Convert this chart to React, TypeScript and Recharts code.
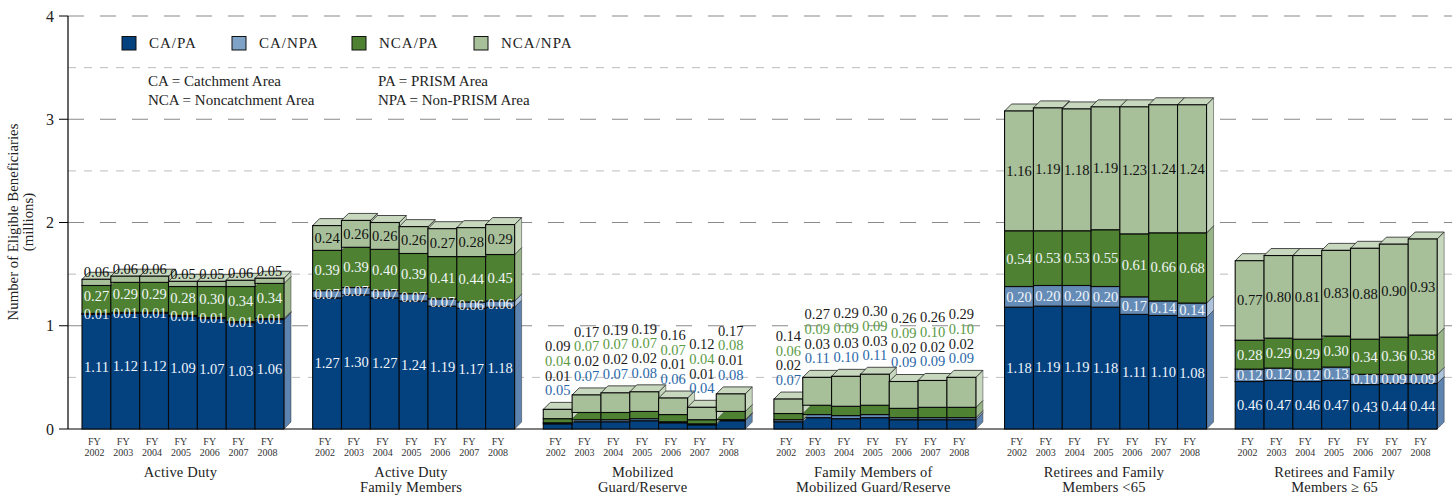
import { BarChart, Bar, XAxis, YAxis, CartesianGrid, LabelList } from 'recharts'

const FONT = '"Liberation Serif", serif'

const fiscalYears = ['2002', '2003', '2004', '2005', '2006', '2007', '2008']
const groupNames = [
  ['Active Duty'],
  ['Active Duty', 'Family Members'],
  ['Mobilized', 'Guard/Reserve'],
  ['Family Members of', 'Mobilized Guard/Reserve'],
  ['Retirees and Family', 'Members <65'],
  ['Retirees and Family', 'Members \u2265 65'],
]

const caPa = [
  [1.11, 1.12, 1.12, 1.09, 1.07, 1.03, 1.06],
  [1.27, 1.3, 1.27, 1.24, 1.19, 1.17, 1.18],
  [0.05, 0.07, 0.07, 0.08, 0.06, 0.04, 0.08],
  [0.07, 0.11, 0.1, 0.11, 0.09, 0.09, 0.09],
  [1.18, 1.19, 1.19, 1.18, 1.11, 1.1, 1.08],
  [0.46, 0.47, 0.46, 0.47, 0.43, 0.44, 0.44],
]
const caNpa = [
  [0.01, 0.01, 0.01, 0.01, 0.01, 0.01, 0.01],
  [0.07, 0.07, 0.07, 0.07, 0.07, 0.06, 0.06],
  [0.01, 0.02, 0.02, 0.02, 0.01, 0.01, 0.01],
  [0.02, 0.03, 0.03, 0.03, 0.02, 0.02, 0.02],
  [0.2, 0.2, 0.2, 0.2, 0.17, 0.14, 0.14],
  [0.12, 0.12, 0.12, 0.13, 0.1, 0.09, 0.09],
]
const ncaPa = [
  [0.27, 0.29, 0.29, 0.28, 0.3, 0.34, 0.34],
  [0.39, 0.39, 0.4, 0.39, 0.41, 0.44, 0.45],
  [0.04, 0.07, 0.07, 0.07, 0.07, 0.04, 0.08],
  [0.06, 0.09, 0.09, 0.09, 0.09, 0.1, 0.1],
  [0.54, 0.53, 0.53, 0.55, 0.61, 0.66, 0.68],
  [0.28, 0.29, 0.29, 0.3, 0.34, 0.36, 0.38],
]
const ncaNpa = [
  [0.06, 0.06, 0.06, 0.05, 0.05, 0.06, 0.05],
  [0.24, 0.26, 0.26, 0.26, 0.27, 0.28, 0.29],
  [0.09, 0.17, 0.19, 0.19, 0.16, 0.12, 0.17],
  [0.14, 0.27, 0.29, 0.3, 0.26, 0.26, 0.29],
  [1.16, 1.19, 1.18, 1.19, 1.23, 1.24, 1.24],
  [0.77, 0.8, 0.81, 0.83, 0.88, 0.9, 0.93],
]

const majorTicks = [1, 2, 3, 4]
const minorTicks = [0.5, 1.5, 2.5, 3.5]

const WIDTH = 1452
const HEIGHT = 496
const PLOT_TOP = 16
const PLOT_BOTTOM = 429
const PLOT_LEFT = 68
const PX_PER_UNIT = (PLOT_BOTTOM - PLOT_TOP) / 4
const DEPTH = 7

// groups whose segments are too thin, so the values are listed above the bars
const LISTED_GROUPS = [2, 3]

const series = [
  { key: 'caPa', name: 'CA/PA', values: caPa, fill: '#03417f', side: '#5d84b0', top: '#5d84b0', swatch: '#03417f', text: '#f2f5f9', listed: '#2a68a8' },
  { key: 'caNpa', name: 'CA/NPA', values: caNpa, fill: '#658cb6', side: '#adc3dc', top: '#adc3dc', swatch: '#7fa3c7', text: '#f2f5f9', listed: '#1a1a1a' },
  { key: 'ncaPa', name: 'NCA/PA', values: ncaPa, fill: '#4e8232', side: '#98b588', top: '#98b588', swatch: '#4e8232', text: '#f2f5f9', listed: '#5a9a45' },
  { key: 'ncaNpa', name: 'NCA/NPA', values: ncaNpa, fill: '#a8c09a', side: '#c8d8bf', top: '#c8d8bf', swatch: '#a8c09a', text: '#111111', listed: '#1a1a1a' },
]

type Row = { id: string; group: number; year: number; [key: string]: string | number | null }

const chartData: Row[] = []
groupNames.forEach((_, g) => {
  fiscalYears.forEach((_, y) => {
    const row: Row = { id: `${g}-${y}`, group: g, year: y }
    series.forEach((s) => {
      row[s.key] = s.values[g][y]
    })
    chartData.push(row)
  })
  if (g < groupNames.length - 1) {
    chartData.push({ id: `gap-${g}`, group: g, year: -1 })
  }
})

// front, top and side faces of one box
function Box3D({ x, y, width, height, fill, side, top }: any) {
  if (!height || height <= 0) return null
  const r = x + width
  const b = y + height
  return (
    <g>
      <path d={`M${r},${y} L${r + DEPTH},${y - DEPTH} L${r + DEPTH},${b - DEPTH} L${r},${b} Z`} fill={side} stroke="#333" strokeWidth={0.5} />
      <path d={`M${x},${y} L${x + DEPTH},${y - DEPTH} L${r + DEPTH},${y - DEPTH} L${r},${y} Z`} fill={top} stroke="#222" strokeWidth={0.8} />
      <rect x={x} y={y} width={width} height={height} fill={fill} stroke="#0a0a0a" strokeWidth={1.1} />
    </g>
  )
}

function SegmentLabel({ x, y, width, height, value, index, seriesIndex }: any) {
  if (value === null || value === undefined) return null
  const row = chartData[index]
  const s = series[seriesIndex]
  const cx = x + width / 2
  let cy = y + height / 2
  let fill = s.text
  if (LISTED_GROUPS.includes(row.group)) {
    let above = 0
    series.slice(seriesIndex + 1).forEach((o) => {
      above += (row[o.key] as number) || 0
    })
    const stackTop = y - above * PX_PER_UNIT
    cy = stackTop - 19 - 14.7 * seriesIndex
    fill = s.listed
  } else if (row.group === 0) {
    if (seriesIndex === 0) cy -= 5
    if (seriesIndex === 2) cy -= 3
    if (seriesIndex === 3) cy -= 10
  }
  return (
    <text x={cx} y={cy} dy="0.34em" textAnchor="middle" fontFamily={FONT} fontSize={14.5} fill={fill}>
      {Number(value).toFixed(2)}
    </text>
  )
}

function FyTick({ x, y, payload }: any) {
  const row = chartData.find((d) => d.id === payload.value)
  if (!row || (row.year as number) < 0) return null
  const names = groupNames[row.group]
  return (
    <g>
      <text x={x - 2} y={y + 8} textAnchor="middle" fontFamily={FONT} fontSize={10} fill="#333">FY</text>
      <text x={x - 2} y={y + 18.5} textAnchor="middle" fontFamily={FONT} fontSize={10} fill="#333">{fiscalYears[row.year]}</text>
      {row.year === 3 &&
        names.map((line, i) => (
          <text key={line} x={x + (row.group < 2 ? -1 : 0) - 1.5} y={y + 39.5 + i * 15} textAnchor="middle" fontFamily={FONT} fontSize={14.5} letterSpacing={0.2} fill="#222">
            {line}
          </text>
        ))}
    </g>
  )
}

function LegendRow() {
  const lefts = [122, 232, 352, 474]
  return (
    <g>
      {series.map((s, i) => (
        <g key={s.key}>
          <rect x={lefts[i]} y={36.5} width={14} height={13.5} fill={s.swatch} stroke="#111" />
          <text x={lefts[i] + 27} y={47.5} fontFamily={FONT} fontSize={15} letterSpacing={1} fill="#222">{s.name}</text>
        </g>
      ))}
    </g>
  )
}

export default function App() {
  return (
    <div style={{ position: 'absolute', left: 0, top: 0, width: WIDTH, height: HEIGHT, background: '#fff' }}>
      <BarChart
        width={WIDTH}
        height={HEIGHT}
        data={chartData}
        margin={{ top: PLOT_TOP, right: 0, bottom: 0, left: 0 }}
        barCategoryGap={0}
      >
        <CartesianGrid horizontal vertical={false} horizontalValues={majorTicks} stroke="#8a8a8a" strokeDasharray="16 16" strokeWidth={1.2} />
        <CartesianGrid horizontal vertical={false} horizontalValues={minorTicks} stroke="#bdbdbd" strokeDasharray="8 8" />
        <XAxis
          dataKey="id"
          interval={0}
          height={HEIGHT - PLOT_BOTTOM}
          padding={{ left: 14, right: 15 }}
          tick={<FyTick />}
          tickLine={false}
          axisLine={false}
        />
        <YAxis
          domain={[0, 4]}
          ticks={[0, 1, 2, 3, 4]}
          width={PLOT_LEFT}
          tickSize={9}
          tickMargin={5}
          tick={{ fontFamily: FONT, fontSize: 16, fill: '#222' }}
          tickLine={{ stroke: '#000' }}
          axisLine={{ stroke: '#000', strokeWidth: 1.2 }}
        />
        {series.map((s, i) => (
          <Bar
            key={s.key}
            dataKey={s.key}
            name={s.name}
            stackId="a"
            isAnimationActive={false}
            shape={(p: any) => <Box3D {...p} fill={s.fill} side={s.side} top={s.top} />}
          >
            <LabelList dataKey={s.key} content={(p: any) => <SegmentLabel {...p} seriesIndex={i} />} />
          </Bar>
        ))}
        <line x1={PLOT_LEFT} x2={1437} y1={PLOT_BOTTOM} y2={PLOT_BOTTOM} stroke="#000" strokeWidth={1.2} />
        <LegendRow />
        <g fontFamily={FONT} fontSize={15} fill="#222">
          <text x={148} y={86}>CA = Catchment Area</text>
          <text x={148} y={105}>NCA = Noncatchment Area</text>
          <text x={378} y={86}>PA = PRISM Area</text>
          <text x={378} y={105}>NPA = Non-PRISM Area</text>
        </g>
        <g fontFamily={FONT} fontSize={14.8} fill="#222" textAnchor="middle">
          <text transform="translate(18,222) rotate(-90)">Number of Eligible Beneficiaries</text>
          <text transform="translate(33,222) rotate(-90)">(millions)</text>
        </g>
      </BarChart>
    </div>
  )
}
